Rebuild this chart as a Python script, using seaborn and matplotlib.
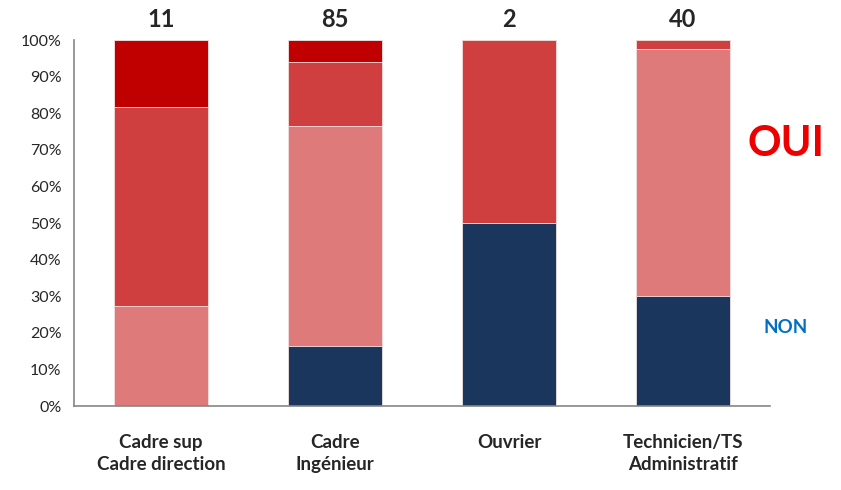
import numpy as np
import pandas as pd
import matplotlib.pyplot as plt
import seaborn as sns
from matplotlib.ticker import PercentFormatter

# data (counts per group)
categories = ['Cadre sup\nCadre direction', 'Cadre\nIngénieur', 'Ouvrier', 'Technicien/TS\nAdministratif']
non = [0, 14, 1, 12]
oui_light = [3, 51, 0, 27]
oui_mid = [6, 15, 1, 1]
oui_dark = [2, 5, 0, 0]
totals = [11, 85, 2, 40]

segments = ['non', 'oui_light', 'oui_mid', 'oui_dark']
colors = {'non': '#1b365d', 'oui_light': '#df7a7a', 'oui_mid': '#cf3f3f', 'oui_dark': '#c00000'}

df = pd.DataFrame({'cat': categories, 'non': non, 'oui_light': oui_light,
                   'oui_mid': oui_mid, 'oui_dark': oui_dark, 'total': totals})
for s in segments:
    df[s] = df[s] / df['total'] * 100
cum = df[segments].cumsum(axis=1)

sns.set_style('white')
plt.rcParams['font.family'] = ['Lato', 'DejaVu Sans']

fig = plt.figure(figsize=(8.41, 4.90), dpi=100)
ax = fig.add_axes([0.088, 0.1714, 0.8276, 0.7466])

# draw cumulative bars from top segment down
for s in reversed(segments):
    sns.barplot(x=df['cat'], y=cum[s], color=colors[s], width=0.545,
                edgecolor='#f4e4e4', linewidth=0.6, saturation=1, ax=ax)

ax.set_ylim(0, 100)
ax.set_xlim(-0.5, 3.5)
ax.set_yticks(np.arange(0, 101, 10))
ax.yaxis.set_major_formatter(PercentFormatter(decimals=0))
ax.set_xlabel('')
ax.set_ylabel('')

ax.set_xticks(np.arange(-0.5, 4, 1), minor=False, labels=[''] * 5)
ax.set_xticks(range(4), minor=True, labels=categories)
ax.tick_params(axis='x', which='major', length=6, direction='out', color='#868686', width=1)
ax.tick_params(axis='x', which='minor', length=0, pad=20, labelsize=13.5)
for lab in ax.get_xticklabels(minor=True):
    lab.set_fontweight('bold')
    lab.set_linespacing(1.35)
ax.tick_params(axis='y', length=5, direction='out', color='#868686', width=1, labelsize=11.5, pad=4)

for side in ['top', 'right']:
    ax.spines[side].set_visible(False)
for side in ['left', 'bottom']:
    ax.spines[side].set_color('#868686')
    ax.spines[side].set_linewidth(1.2)

for i, t in enumerate(totals):
    ax.text(i, 102.5, str(t), ha='center', va='bottom', fontsize=17, fontweight='bold')

ax.text(3.59, 71.5, 'OUI', color='#ee0000', fontsize=30, fontweight='bold',
        ha='center', va='center', clip_on=False)
ax.text(3.59, 21.5, 'NON', color='#0070c0', fontsize=13.5, fontweight='bold',
        ha='center', va='center', clip_on=False)

fig.savefig('out.png', dpi=100)
